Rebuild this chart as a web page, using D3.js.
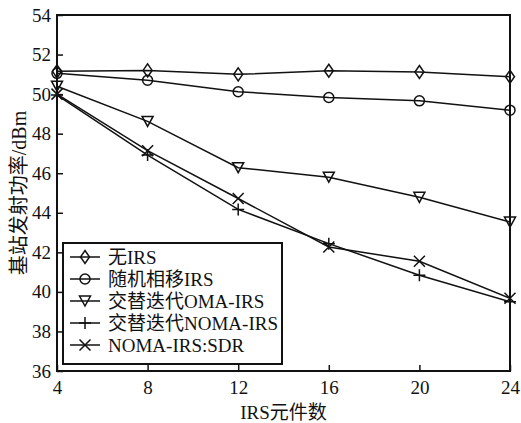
<!DOCTYPE html>
<html>
<head>
<meta charset="utf-8">
<script src="https://cdn.jsdelivr.net/npm/d3@7"></script>
<style>
body { margin: 0; background: #fff; }
text { font-family: "Liberation Serif", "Noto Sans CJK SC", serif; fill: #111; }
</style>
</head>
<body>
<div id="chart"></div>
<script>
var xValues = [4, 8, 12, 16, 20, 24];
var seriesNames = ['无IRS', '随机相移IRS', '交替迭代OMA-IRS', '交替迭代NOMA-IRS', 'NOMA-IRS:SDR'];
var seriesMarkers = ['diamond', 'circle', 'triangle', 'plus', 'cross'];
var noIrs = [51.15, 51.2, 51.0, 51.18, 51.12, 50.88];
var randomIrs = [51.05, 50.7, 50.12, 49.83, 49.66, 49.19];
var omaIrs = [50.4, 48.62, 46.28, 45.8, 44.78, 43.53];
var nomaIrs = [49.95, 46.92, 44.17, 42.44, 40.84, 39.5];
var sdrIrs = [50.0, 47.14, 44.72, 42.27, 41.55, 39.68];
var yTicks = [36, 38, 40, 42, 44, 46, 48, 50, 52, 54];

var allSeries = [noIrs, randomIrs, omaIrs, nomaIrs, sdrIrs];

var width = 521, height = 423;
var margin = {left: 57, top: 15, right: 11, bottom: 52};

var svg = d3.select('#chart').append('svg')
    .attr('width', width)
    .attr('height', height);

var x = d3.scaleLinear().domain([4, 24]).range([margin.left, width - margin.right]);
var y = d3.scaleLinear().domain([36, 54]).range([height - margin.bottom, margin.top]);

var ink = '#111';

// bottom axis, ticks pointing inward
var xAxis = svg.append('g')
    .attr('transform', 'translate(0,' + (height - margin.bottom) + ')')
    .call(d3.axisBottom(x).tickValues(xValues).tickSizeInner(-6).tickSizeOuter(0).tickPadding(10));

var yAxis = svg.append('g')
    .attr('transform', 'translate(' + margin.left + ',0)')
    .call(d3.axisLeft(y).tickValues(yTicks).tickSizeInner(-6).tickSizeOuter(0).tickPadding(6));

[xAxis, yAxis].forEach(function(ax){
    ax.select('.domain').remove();
    ax.selectAll('line').attr('stroke', ink).attr('stroke-width', 1.5);
    ax.selectAll('text').style('font-size', '19px').attr('fill', ink);
});

// plot frame
svg.append('rect')
    .attr('x', x(4)).attr('y', y(54))
    .attr('width', x(24) - x(4)).attr('height', y(36) - y(54))
    .attr('fill', 'none').attr('stroke', ink).attr('stroke-width', 2);

function drawMarker(g, type, cx, cy){
    if(type === 'diamond'){
        g.append('path').attr('d', 'M' + cx + ',' + (cy - 6.5) + 'L' + (cx + 4.5) + ',' + cy + 'L' + cx + ',' + (cy + 6.5) + 'L' + (cx - 4.5) + ',' + cy + 'Z');
    } else if(type === 'circle'){
        g.append('circle').attr('cx', cx).attr('cy', cy).attr('r', 5);
    } else if(type === 'triangle'){
        g.append('path').attr('d', 'M' + (cx - 5.5) + ',' + (cy - 5) + 'L' + (cx + 5.5) + ',' + (cy - 5) + 'L' + cx + ',' + (cy + 5) + 'Z');
    } else if(type === 'plus'){
        g.append('path').attr('d', 'M' + (cx - 6) + ',' + cy + 'L' + (cx + 6) + ',' + cy + 'M' + cx + ',' + (cy - 6) + 'L' + cx + ',' + (cy + 6));
    } else if(type === 'cross'){
        g.append('path').attr('d', 'M' + (cx - 5.5) + ',' + (cy - 5.5) + 'L' + (cx + 5.5) + ',' + (cy + 5.5) + 'M' + (cx + 5.5) + ',' + (cy - 5.5) + 'L' + (cx - 5.5) + ',' + (cy + 5.5));
    }
}

var line = d3.line()
    .x(function(d, i){ return x(xValues[i]); })
    .y(function(d){ return y(d); });

allSeries.forEach(function(vals, k){
    var g = svg.append('g')
        .attr('fill', 'none').attr('stroke', ink).attr('stroke-width', 1.5);
    g.append('path').attr('d', line(vals));
    vals.forEach(function(v, i){
        drawMarker(g, seriesMarkers[k], x(xValues[i]), y(v));
    });
});

// legend
var lg = svg.append('g').attr('transform', 'translate(63,243)');
lg.append('rect')
    .attr('width', 219).attr('height', 121)
    .attr('fill', '#fff').attr('stroke', ink).attr('stroke-width', 2);

seriesNames.forEach(function(name, k){
    var cy = 14 + k * 22;
    var g = lg.append('g').attr('fill', 'none').attr('stroke', ink).attr('stroke-width', 1.5);
    g.append('line').attr('x1', 7).attr('x2', 37).attr('y1', cy).attr('y2', cy);
    drawMarker(g, seriesMarkers[k], 22, cy);
    lg.append('text')
        .attr('x', 45).attr('y', cy + 7)
        .style('font-size', '19px')
        .text(name);
});

// axis titles
svg.append('text')
    .attr('x', (x(4) + x(24)) / 2).attr('y', 419)
    .attr('text-anchor', 'middle')
    .style('font-size', '19px')
    .text('IRS元件数');

svg.append('text')
    .attr('transform', 'translate(26,' + (y(54) + y(36)) / 2 + ') rotate(-90)')
    .attr('text-anchor', 'middle')
    .style('font-size', '20px')
    .text('基站发射功率/dBm');
</script>
</body>
</html>
